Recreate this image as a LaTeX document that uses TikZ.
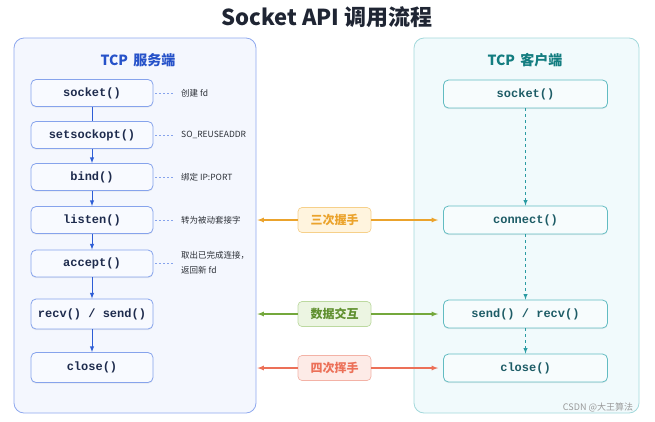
\documentclass[tikz,border=0pt]{standalone}
\usepackage{fontspec}
\setmainfont{Noto Sans CJK SC}
\setmonofont{Liberation Mono}
\usepackage{xcolor}
\usetikzlibrary{arrows, positioning, shadows}

\definecolor{srvedge}{HTML}{8EA8EE}
\definecolor{srvbg}{HTML}{F4F7FE}
\definecolor{srvboxedge}{HTML}{86A3EC}
\definecolor{srvboxbg}{HTML}{F8FAFF}
\definecolor{srvtext}{HTML}{1E2B4D}
\definecolor{srvhead}{HTML}{2652C9}
\definecolor{srvflow}{HTML}{2D5DD6}
\definecolor{cliedge}{HTML}{A3D8DB}
\definecolor{clibg}{HTML}{F1FAFC}
\definecolor{cliboxedge}{HTML}{62BCC2}
\definecolor{cliboxbg}{HTML}{F7FCFD}
\definecolor{clitext}{HTML}{1D5C66}
\definecolor{clihead}{HTML}{137D80}
\definecolor{cliflow}{HTML}{2A9BA3}
\definecolor{hsline}{HTML}{EBA32C}
\definecolor{hsbg}{HTML}{FFF4DE}
\definecolor{hsedge}{HTML}{F6D08A}
\definecolor{ioline}{HTML}{74A83C}
\definecolor{iobg}{HTML}{ECF5E2}
\definecolor{ioedge}{HTML}{BCD9A0}
\definecolor{iotext}{HTML}{5F8F2E}
\definecolor{finline}{HTML}{EC7058}
\definecolor{finbg}{HTML}{FDEBE7}
\definecolor{finedge}{HTML}{F3B2A6}
\definecolor{notetextc}{HTML}{2B2F36}

\begin{document}
\begin{tikzpicture}[x=1pt, y=-1pt,
  panel/.style={rectangle, rounded corners=10pt, line width=0.8pt, minimum height=375pt},
  srvbox/.style={rectangle, rounded corners=5pt, draw=srvboxedge, fill=srvboxbg, line width=0.8pt, minimum width=122pt, minimum height=27pt, text=srvtext, font=\ttfamily\bfseries\fontsize{12}{14}\selectfont, drop shadow={opacity=0.12, shadow xshift=0pt, shadow yshift=-1.2pt}},
  clibox/.style={srvbox, draw=cliboxedge, fill=cliboxbg, text=clitext, minimum width=164pt, minimum height=28pt},
  head/.style={font=\bfseries\fontsize{14}{16}\selectfont},
  note/.style={anchor=west, inner sep=0pt, align=left, text=notetextc, font=\fontsize{8.5}{15}\selectfont},
  notedash/.style={draw=srvboxedge, dash pattern=on 2pt off 2pt, line width=0.8pt, shorten <=2pt, shorten >=6pt},
  phase/.style={rectangle, rounded corners=4pt, line width=0.7pt, minimum width=73pt, minimum height=25pt, font=\bfseries\fontsize{12}{14}\selectfont},
  phasearrow/.style={-latex, line width=1.2pt}]

\useasboundingbox (0,0) rectangle (655,421);

% title
\node (title) at (327,17) {\bfseries\fontsize{22}{26}\selectfont\color[HTML]{1F2533}Socket API 调用流程};

% panels
\node[panel, draw=srvedge, fill=srvbg, minimum width=242pt] (srvPanel) at (135,225.5) {};
\node[panel, draw=cliedge, fill=clibg, minimum width=225pt] (cliPanel) at (526.5,225.5) {};
\node[head, text=srvhead] (srvHead) at (138,60) {TCP\, 服务端};
\node[head, text=clihead] (cliHead) at (525,60) {TCP\, 客户端};

% server side
\node[srvbox] (srvSocket) at (92,93) {socket()};
\node[srvbox] (srvSetopt) at (92,135) {setsockopt()};
\node[srvbox] (srvBind) at (92,177) {bind()};
\node[srvbox] (srvListen) at (92,220) {listen()};
\node[srvbox] (srvAccept) at (92,263.5) {accept()};
\node[srvbox, minimum height=30pt] (srvIO) at (92,314) {recv() / send()};
\node[srvbox, minimum height=30pt] (srvClose) at (92,367.5) {close()};

\draw[srvflow, line width=1pt] (srvSocket) -- (srvSetopt);
\draw[-latex, srvflow, line width=1pt] (srvSetopt) -- (srvBind);
\draw[-latex, srvflow, line width=1pt] (srvBind) -- (srvListen);
\draw[-latex, srvflow, line width=1pt] (srvListen) -- (srvAccept);
\draw[-latex, srvflow, line width=1pt] (srvAccept) -- (srvIO);
\draw[-latex, srvflow, line width=1pt] (srvIO) -- (srvClose);

% notes
\node[note] (noteSocket) at (181,93) {创建 fd};
\node[note] (noteSetopt) at (181,135) {SO\_REUSEADDR};
\node[note] (noteBind) at (181,177) {绑定 IP:PORT};
\node[note] (noteListen) at (181,220) {转为被动套接字};
\node[note] (noteAccept) at (181,263) {取出已完成连接，\\返回新 fd};

\draw[notedash] (srvSocket.east) -- (noteSocket.west);
\draw[notedash] (srvSetopt.east) -- (noteSetopt.west);
\draw[notedash] (srvBind.east) -- (noteBind.west);
\draw[notedash] (srvListen.east) -- (noteListen.west);
\draw[notedash] (srvAccept.east) -- (srvAccept.east -| noteAccept.west);

% client side
\node[clibox] (cliSocket) at (525.5,94) {socket()};
\node[clibox] (cliConnect) at (525.5,220) {connect()};
\node[clibox] (cliIO) at (525.5,314) {send() / recv()};
\node[clibox] (cliClose) at (525.5,368) {close()};

\draw[-latex, cliflow, dashed, line width=0.9pt] (cliSocket) -- (cliConnect);
\draw[-latex, cliflow, dashed, line width=0.9pt] (cliConnect) -- (cliIO);
\draw[-latex, cliflow, dashed, line width=0.9pt] (cliIO) -- (cliClose);

% phases
\node[phase, draw=hsedge, fill=hsbg, text=hsline] (hs) at (334.5,220) {三次握手};
\node[phase, draw=ioedge, fill=iobg, text=iotext] (io) at (334.5,314) {数据交互};
\node[phase, draw=finedge, fill=finbg, text=finline] (fin) at (334.5,368) {四次挥手};

\draw[phasearrow, draw=hsline, fill=hsline, shorten >=1pt] (hs.west) -- (hs -| srvPanel.east);
\draw[phasearrow, draw=hsline, fill=hsline, shorten >=5pt] (hs.east) -- (hs -| cliConnect.west);
\draw[phasearrow, draw=ioline, fill=ioline, shorten >=1pt] (io.west) -- (io -| srvPanel.east);
\draw[phasearrow, draw=ioline, fill=ioline, shorten >=5pt] (io.east) -- (io -| cliIO.west);
\draw[phasearrow, draw=finline, fill=finline, shorten >=1pt] (fin.west) -- (fin -| srvPanel.east);
\draw[phasearrow, draw=finline, fill=finline, shorten >=5pt] (fin.east) -- (fin -| cliClose.west);

% watermark
\node[text=black!40, font=\fontsize{9}{10}\selectfont] (mark) at (598,407) {CSDN @大王算法};
\end{tikzpicture}
\end{document}
